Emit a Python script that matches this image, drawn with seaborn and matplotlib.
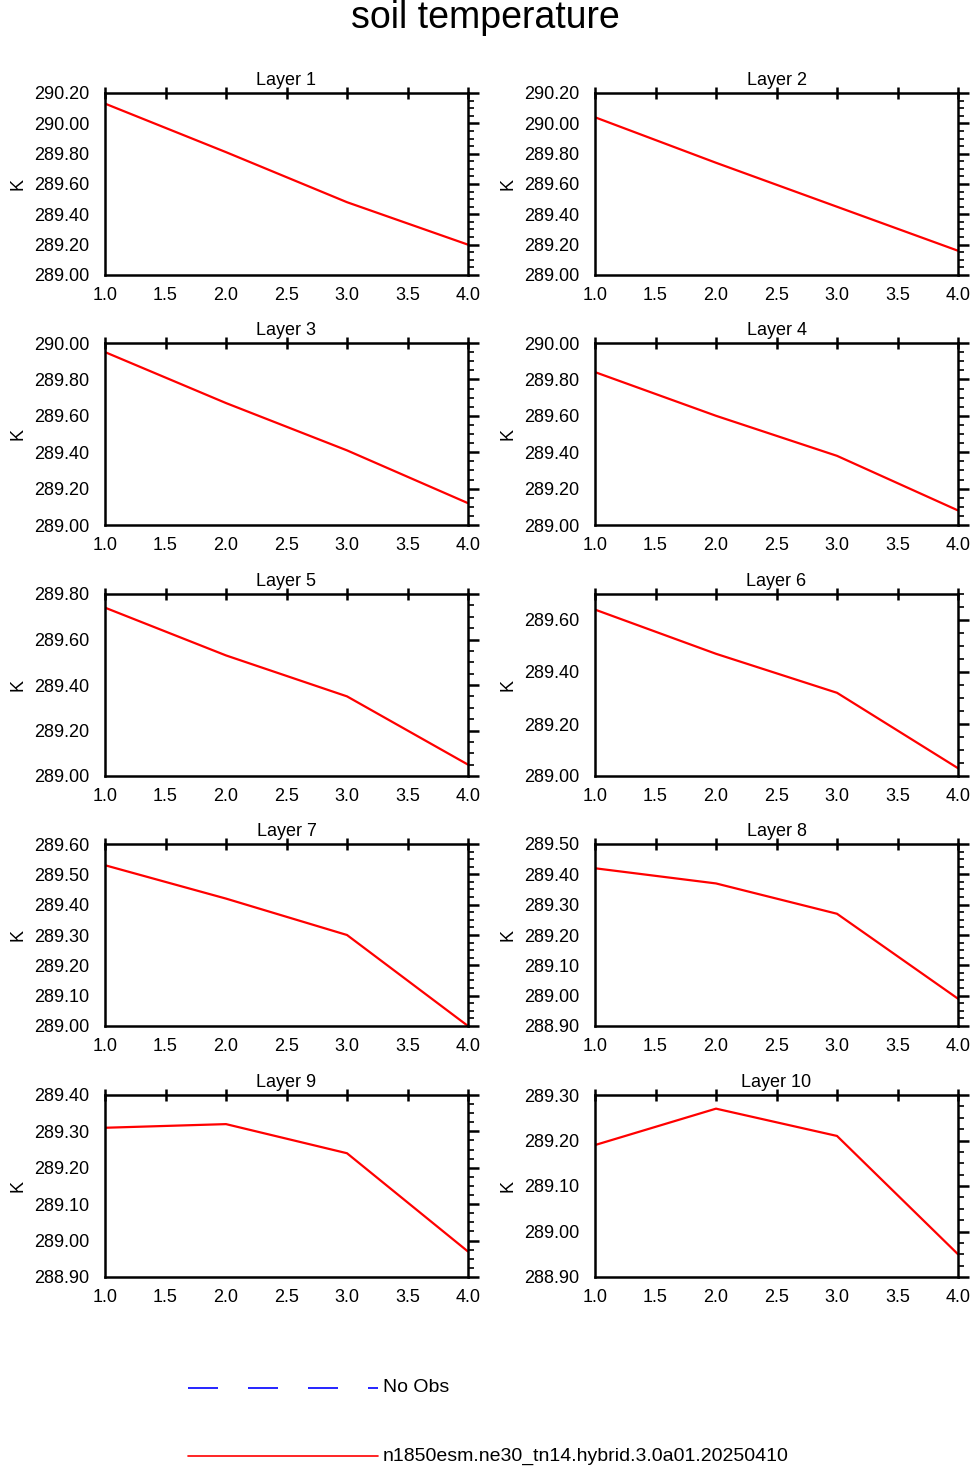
import numpy as np
import pandas as pd
import matplotlib
matplotlib.use("Agg")
import matplotlib.pyplot as plt
import seaborn as sns
from matplotlib.ticker import MultipleLocator, FormatStrFormatter, NullLocator

sns.set_style("white")
plt.rcParams['font.family'] = ['Liberation Sans', 'DejaVu Sans']
plt.rcParams['text.color'] = 'black'
plt.rcParams['xtick.color'] = 'black'
plt.rcParams['ytick.color'] = 'black'
plt.rcParams['axes.labelcolor'] = 'black'

x = [1.0, 2.0, 3.0, 4.0]
layers = ['Layer %d' % i for i in range(1, 11)]
temps = [
    [290.13, 289.81, 289.48, 289.20],
    [290.04, 289.74, 289.45, 289.16],
    [289.95, 289.67, 289.41, 289.12],
    [289.84, 289.60, 289.38, 289.08],
    [289.74, 289.53, 289.35, 289.05],
    [289.64, 289.47, 289.32, 289.03],
    [289.53, 289.42, 289.30, 289.00],
    [289.42, 289.37, 289.27, 288.99],
    [289.31, 289.32, 289.24, 288.97],
    [289.19, 289.27, 289.21, 288.95],
]
ylims = [(289.0, 290.2), (289.0, 290.2), (289.0, 290.0), (289.0, 290.0), (289.0, 289.8),
         (289.0, 289.7), (289.0, 289.6), (288.9, 289.5), (288.9, 289.4), (288.9, 289.3)]
ymajor = [0.2, 0.2, 0.2, 0.2, 0.2, 0.2, 0.1, 0.1, 0.1, 0.1]
case_name = 'n1850esm.ne30_tn14.hybrid.3.0a01.20250410'

W, H = 971, 1467
fig = plt.figure(figsize=(W / 100, H / 100), dpi=100)
fig.text(0.5, 1 - 18 / H, 'soil temperature', ha='center', va='center', fontsize=27)

lefts = [105, 595]
tops = [93, 343, 594, 844, 1095]
aw, ah = 363, 182
for i, (name, t) in enumerate(zip(layers, temps)):
    r, c = divmod(i, 2)
    ax = fig.add_axes([lefts[c] / W, 1 - (tops[r] + ah) / H, aw / W, ah / H])
    df = pd.DataFrame({'x': x, 'T': t})
    sns.lineplot(data=df, x='x', y='T', ax=ax, color='red', linewidth=1.6)
    ax.set_xlim(1, 4)
    ax.set_ylim(*ylims[i])
    ax.xaxis.set_major_locator(MultipleLocator(0.5))
    ax.xaxis.set_minor_locator(NullLocator())
    ax.yaxis.set_major_locator(MultipleLocator(ymajor[i]))
    ax.yaxis.set_minor_locator(MultipleLocator(ymajor[i] / 4))
    ax.xaxis.set_major_formatter(FormatStrFormatter('%.1f'))
    ax.yaxis.set_major_formatter(FormatStrFormatter('%.2f'))
    ax.tick_params(axis='x', which='major', direction='inout', length=9, width=1.8,
                   top=True, labelsize=13, pad=4)
    ax.tick_params(axis='y', which='major', direction='out', length=8, width=1.8,
                   right=True, labelsize=13, pad=3)
    ax.tick_params(axis='y', which='minor', direction='out', length=4, width=1.2, right=True)
    for s in ax.spines.values():
        s.set_linewidth(1.8)
        s.set_color('black')
    ax.set_xlabel('')
    ax.set_ylabel('K', fontsize=13, labelpad=6)
    ax.set_title(name, fontsize=13, pad=6)

lg = fig.add_axes([0, 0, 1, 130 / H])
lg.set_xlim(0, W)
lg.set_ylim(H - 130, H)
lg.invert_yaxis()
lg.axis('off')
lg.plot([188, 378], [1388, 1388], color='blue', linestyle=(0, (18, 18)), linewidth=1.2)
lg.text(383, 1388, 'No Obs', va='center', fontsize=14)
lg.plot([188, 378], [1456, 1456], color='red', linewidth=1.2)
lg.text(383, 1456, case_name, va='center', fontsize=14)

fig.savefig('out.png', dpi=100)
